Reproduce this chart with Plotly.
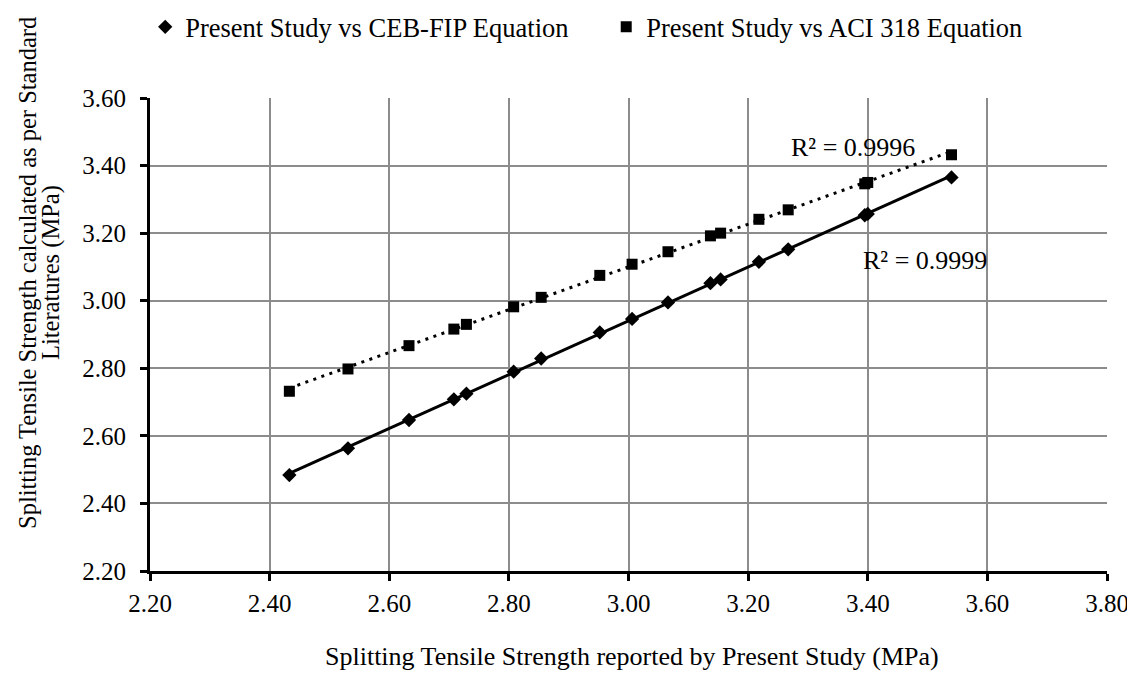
import numpy as np
import plotly.graph_objects as go

# Data
present_study = [2.433, 2.531, 2.633, 2.708, 2.729, 2.808, 2.854, 2.952, 3.006,
                 3.066, 3.137, 3.154, 3.218, 3.267, 3.395, 3.400, 3.540]
ceb_fip = [2.484, 2.563, 2.647, 2.708, 2.725, 2.790, 2.829, 2.906, 2.946,
           2.995, 3.052, 3.063, 3.115, 3.152, 3.253, 3.257, 3.365]
aci_318 = [2.732, 2.798, 2.867, 2.916, 2.930, 2.982, 3.010, 3.075, 3.108,
           3.145, 3.192, 3.200, 3.241, 3.269, 3.346, 3.350, 3.432]
r2_labels = ["R² = 0.9996", "R² = 0.9999"]
series_names = ["Present Study vs CEB-FIP Equation", "Present Study vs ACI 318 Equation"]
tick_vals_x = [2.2, 2.4, 2.6, 2.8, 3.0, 3.2, 3.4, 3.6, 3.8]
tick_vals_y = [2.2, 2.4, 2.6, 2.8, 3.0, 3.2, 3.4, 3.6]

FONT = "Liberation Serif"
FS_TICK = 25
FS_TXT = 26

x = np.array(present_study)
xs = np.array([x.min(), x.max()])
fit_ceb = np.polyval(np.polyfit(x, ceb_fip, 1), xs)
fit_aci = np.polyval(np.polyfit(x, aci_318, 1), xs)

fig = go.Figure()
# trendlines
fig.add_trace(go.Scatter(x=xs, y=fit_ceb, mode="lines", showlegend=False,
                         line=dict(color="black", width=3), hoverinfo="skip"))
fig.add_trace(go.Scatter(x=xs, y=fit_aci, mode="lines", showlegend=False,
                         line=dict(color="black", width=3, dash="3px,5.5px"), hoverinfo="skip"))
# markers
fig.add_trace(go.Scatter(x=present_study, y=ceb_fip, mode="markers", name=series_names[0],
                         marker=dict(symbol="diamond", size=11, color="black")))
fig.add_trace(go.Scatter(x=present_study, y=aci_318, mode="markers", name=series_names[1],
                         marker=dict(symbol="square", size=11, color="black")))

fig.add_annotation(x=3.375, y=3.4525, xref="x", yref="y", text=r2_labels[0], showarrow=False,
                   font=dict(family=FONT, size=FS_TXT, color="black"))
fig.add_annotation(x=3.495, y=3.118, xref="x", yref="y", text=r2_labels[1], showarrow=False,
                   font=dict(family=FONT, size=FS_TXT, color="black"))

# axis titles (positions relative to plot area: left 150, right 1107, top 98, bottom 571)
fig.add_annotation(x=(632 - 150) / 957, y=(571 - 656) / 473, xref="paper", yref="paper", showarrow=False,
                   text="Splitting Tensile Strength reported by Present Study (MPa)",
                   font=dict(family=FONT, size=FS_TXT, color="black"), xanchor="center", yanchor="middle")
fig.add_annotation(x=(27 - 150) / 957, y=(571 - 273) / 473, xref="paper", yref="paper", showarrow=False,
                   text="Splitting Tensile Strength calculated as per Standard", textangle=-90,
                   font=dict(family=FONT, size=24.5, color="black"), xanchor="center", yanchor="middle")
fig.add_annotation(x=(51 - 150) / 957, y=(571 - 273) / 473, xref="paper", yref="paper", showarrow=False,
                   text="Literatures (MPa)", textangle=-90,
                   font=dict(family=FONT, size=24.5, color="black"), xanchor="center", yanchor="middle")

axis_common = dict(showgrid=True, gridcolor="#8c8c8c", gridwidth=2,
                   showline=True, linecolor="black", linewidth=3,
                   ticks="outside", tickcolor="black", tickwidth=3, ticklen=7,
                   tickfont=dict(family=FONT, size=FS_TICK, color="black"),
                   zeroline=False, mirror=False, tickformat=".2f")

fig.update_xaxes(range=[2.2, 3.8], tickvals=tick_vals_x, ticklabelstandoff=1, **axis_common)
fig.update_yaxes(range=[2.2, 3.6], tickvals=tick_vals_y, ticklabelstandoff=9, **axis_common)

# the page body has an 8px default margin, so the figure is 8px smaller than the window
fig.update_layout(
    width=1127, height=667,
    margin=dict(l=142, r=28, t=90, b=104, autoexpand=False),
    plot_bgcolor="white", paper_bgcolor="white",
    font=dict(family=FONT, size=FS_TXT, color="black"),
    showlegend=True,
    legend=dict(orientation="h", x=-0.005, xanchor="left", y=1.15, yanchor="middle",
                font=dict(family=FONT, size=26.5, color="black"),
                entrywidth=416, entrywidthmode="pixels", bgcolor="rgba(0,0,0,0)"),
)

fig.write_html("out.html")
